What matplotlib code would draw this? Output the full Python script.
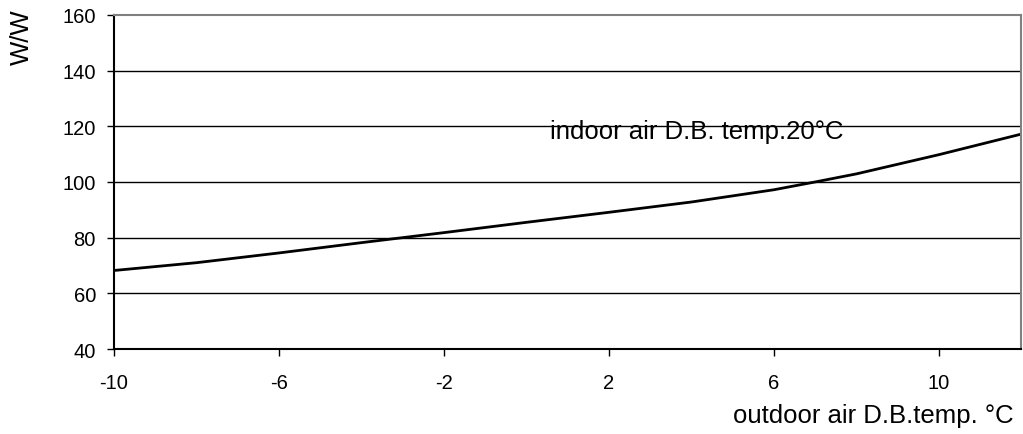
import matplotlib.pyplot as plt

plt.rcParams['font.family'] = ['Liberation Sans', 'DejaVu Sans']
plt.rcParams['axes.unicode_minus'] = False

# outdoor air temp (°C) and W/W values
temps = [-10, -8, -6, -4, -2, 0, 2, 4, 6, 7, 8, 10, 12]
values = [68.2, 71.0, 74.5, 78.2, 81.8, 85.5, 89.1, 92.8, 97.2, 100.0, 102.9, 109.8, 117.2]
xticks = [-10, -6, -2, 2, 6, 10]
yticks = [40, 60, 80, 100, 120, 140, 160]

fig = plt.figure(figsize=(10.23, 4.35), dpi=100)
ax = fig.add_axes([0.1114, 0.1954, 0.887, 0.768])

ax.plot(temps, values, color='black', lw=2.0, solid_joinstyle='round')

ax.set_xlim(-10, 12)
ax.set_ylim(40, 160)
ax.set_xticks(xticks)
ax.set_yticks(yticks)
ax.tick_params(direction='out', length=5, width=1, labelsize=14.5, color='black')
ax.tick_params(axis='y', pad=8)
ax.tick_params(axis='x', pad=12)
for y in yticks[1:-1]:
    ax.axhline(y, color='black', lw=1, zorder=0)

ax.spines['left'].set_color('black')
ax.spines['bottom'].set_color('black')
ax.spines['top'].set_color('#808080')
ax.spines['right'].set_color('#808080')
for s in ax.spines.values():
    s.set_linewidth(1.5)

fig.text(0.5375, 0.697, 'indoor air D.B. temp.20°C', fontsize=18.5, va='center', ha='left')
fig.text(0.991, 0.043, 'outdoor air D.B.temp. °C', fontsize=18.5, va='center', ha='right')
fig.text(0.021, 0.915, 'W/W', fontsize=18.5, rotation=90, va='center', ha='center')

fig.savefig('out.png', dpi=100)
